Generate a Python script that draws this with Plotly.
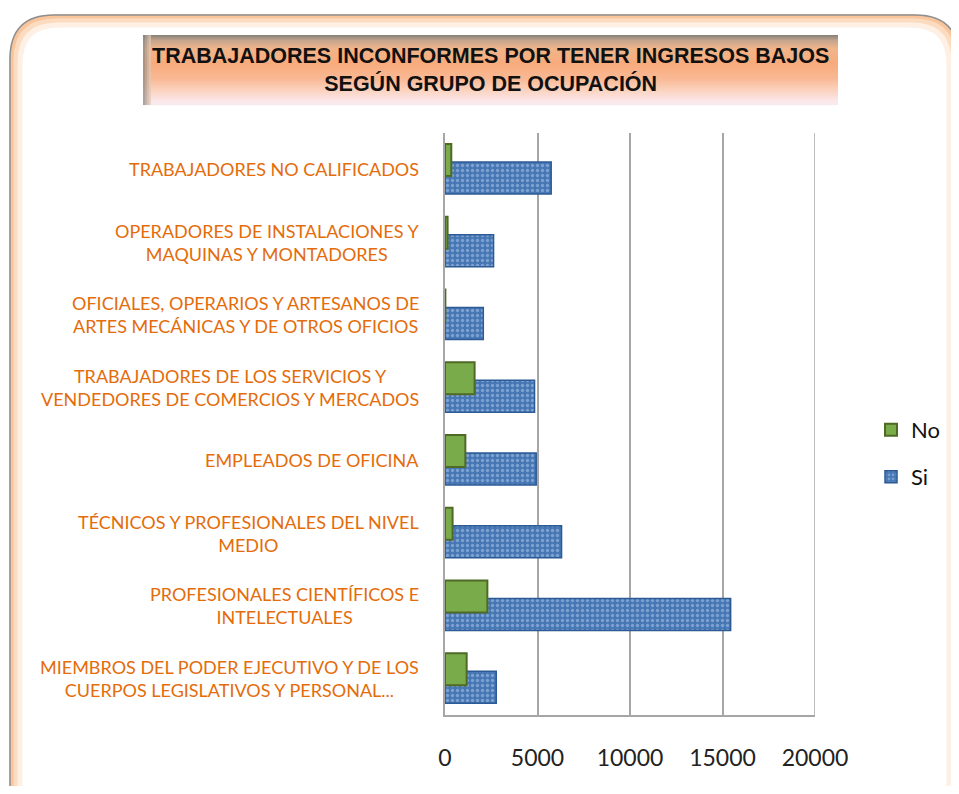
import plotly.graph_objects as go

# categories bottom -> top, as Excel draws them
categorias = [
    "MIEMBROS DEL PODER EJECUTIVO Y DE LOS<br>CUERPOS LEGISLATIVOS Y PERSONAL...",
    "PROFESIONALES CIENTÍFICOS E<br>INTELECTUALES",
    "TÉCNICOS Y PROFESIONALES DEL NIVEL<br>MEDIO",
    "EMPLEADOS DE OFICINA",
    "TRABAJADORES DE LOS SERVICIOS Y<br>VENDEDORES DE COMERCIOS Y MERCADOS",
    "OFICIALES, OPERARIOS Y ARTESANOS DE<br>ARTES MECÁNICAS Y DE OTROS OFICIOS",
    "OPERADORES DE INSTALACIONES Y<br>MAQUINAS Y MONTADORES",
    "TRABAJADORES NO CALIFICADOS",
]
si_vals = [2770, 15440, 6300, 4930, 4840, 2070, 2625, 5740]
no_vals = [1170, 2290, 410, 1100, 1600, 20, 140, 340]
x_ticks = [0, 5000, 10000, 15000, 20000]
x_ticktext = ["0", "5000", "10000", "15000", "20000"]

titulo = "TRABAJADORES INCONFORMES POR TENER INGRESOS BAJOS<br>SEGÚN GRUPO DE OCUPACIÓN"

W, H = 943, 778
ML, MT, MR, MB = 437, 125, 136, 71
PW, PH = W - ML - MR, H - MT - MB


def px(x):
    return (x - ML) / PW


def py(y):
    return 1 - (y - MT) / PH


def mix(c1, c2, t):
    a = [int(c1[i:i + 2], 16) for i in (1, 3, 5)]
    b = [int(c2[i:i + 2], 16) for i in (1, 3, 5)]
    return "#" + "".join(f"{round(a[k] + (b[k] - a[k]) * t):02x}" for k in range(3))


fig = go.Figure()
fig.add_trace(go.Bar(
    y=list(range(len(categorias))), x=si_vals, orientation="h", name="Si",
    width=0.44, offset=-0.34,
    marker=dict(color="#4677b4", line=dict(color="#2c5a94", width=1.5),
                pattern=dict(shape=".", fgcolor="#b4cdee", bgcolor="#4677b4", size=5, solidity=0.35)),
    legend="legend2",
))
fig.add_trace(go.Bar(
    y=list(range(len(categorias))), x=no_vals, orientation="h", name="No",
    width=0.44, offset=-0.09,
    marker=dict(color="#7aab4b", line=dict(color="#4f6a25", width=2)),
    legend="legend",
))

shapes = []


def rr_path(x0, y0, x1, y1, r):
    a, b, c, d = px(x0), py(y0), px(x1), py(y1)
    rx, ry = r / PW, r / PH
    return (f"M{a+rx},{b} L{c-rx},{b} Q{c},{b} {c},{b-ry} L{c},{d+ry} Q{c},{d} {c-rx},{d} "
            f"L{a+rx},{d} Q{a},{d} {a},{d+ry} L{a},{b-ry} Q{a},{b} {a+rx},{b} Z")


# panel with orange inner glow
glow = [("#fef0e4", 12), ("#fcdcc0", 7), ("#f9c59c", 3)]
for col, inset in glow:
    shapes.append(dict(type="path", xref="paper", yref="paper", layer="below",
                       path=rr_path(2 + inset / 2, 7 + inset / 2, 951 - inset / 2, 820, 44),
                       line=dict(color=col, width=inset + 1)))
shapes.append(dict(type="path", xref="paper", yref="paper", layer="below",
                   path=rr_path(2, 7, 951, 820, 44), line=dict(color="#8f8f8f", width=1.5)))

# title box gradient
stops = [(27, "#8a8279"), (32, "#c4a48c"), (40, "#f1b58a"), (55, "#f8ab7c"),
         (70, "#f9b893"), (82, "#fbd3c0"), (92, "#fbe6e8"), (97, "#f7ecf2")]
for i in range(len(stops) - 1):
    y0, c0 = stops[i]
    y1, c1 = stops[i + 1]
    n = y1 - y0
    for k in range(n):
        shapes.append(dict(type="rect", xref="paper", yref="paper", layer="below",
                           x0=px(135), x1=px(830), y0=py(y0 + k), y1=py(y0 + k + 1.2),
                           fillcolor=mix(c0, c1, k / n), line_width=0))
for i, col in enumerate(["#8d8780", "#a99b90", "#c8b2a2", "#e2c6b2"]):
    shapes.append(dict(type="rect", xref="paper", yref="paper", layer="below",
                       x0=px(135 + i * 2), x1=px(137 + i * 2), y0=py(27), y1=py(97),
                       fillcolor=col, line_width=0, opacity=0.7))

annotations = [dict(text="<b>" + titulo + "</b>", xref="paper", yref="paper",
                    x=px(482), y=py(62), xanchor="center", yanchor="middle", showarrow=False,
                    font=dict(family="Liberation Sans Narrow, Arial Narrow, sans-serif", size=21.5, color="#111111"))]
for i, c in enumerate(categorias):
    annotations.append(dict(text=c, xref="paper", yref="y", x=px(413), y=i,
                            xanchor="right", yanchor="middle", align="center", showarrow=False,
                            font=dict(family="Lato, sans-serif", size=18, color="#e46c0a")))

leg_style = dict(xref="container", yref="container", xanchor="left", yanchor="middle",
                 bgcolor="rgba(0,0,0,0)", itemwidth=30, font=dict(size=22, color="#111111"))

fig.update_layout(
    width=W, height=H, margin=dict(l=ML, r=MR, t=MT, b=MB, autoexpand=False),
    paper_bgcolor="white", plot_bgcolor="white",
    barmode="overlay", shapes=shapes, annotations=annotations,
    font=dict(family="Lato, sans-serif"), showlegend=True,
    xaxis=dict(range=[0, 20000], tickvals=x_ticks, ticktext=x_ticktext, showgrid=True,
               gridcolor="#a6a6a6", gridwidth=1.5,
               zeroline=False, showline=True, linecolor="#a6a6a6", linewidth=1.5,
               ticks="", ticklabelstandoff=22, tickfont=dict(size=23, color="#222222")),
    yaxis=dict(range=[-0.5, len(categorias) - 0.5], showticklabels=False, showgrid=False,
               zeroline=False, showline=True, linecolor="#a6a6a6", linewidth=1.5, ticks=""),
    legend=dict(x=863 / W, y=1 - 422 / H, **leg_style),
    legend2=dict(x=863 / W, y=1 - 469 / H, **leg_style),
)
# right border at 20000
fig.add_shape(type="line", xref="x", yref="paper", x0=20000, x1=20000, y0=0, y1=1,
              line=dict(color="#a6a6a6", width=1.5))

fig.write_html("out.html")
